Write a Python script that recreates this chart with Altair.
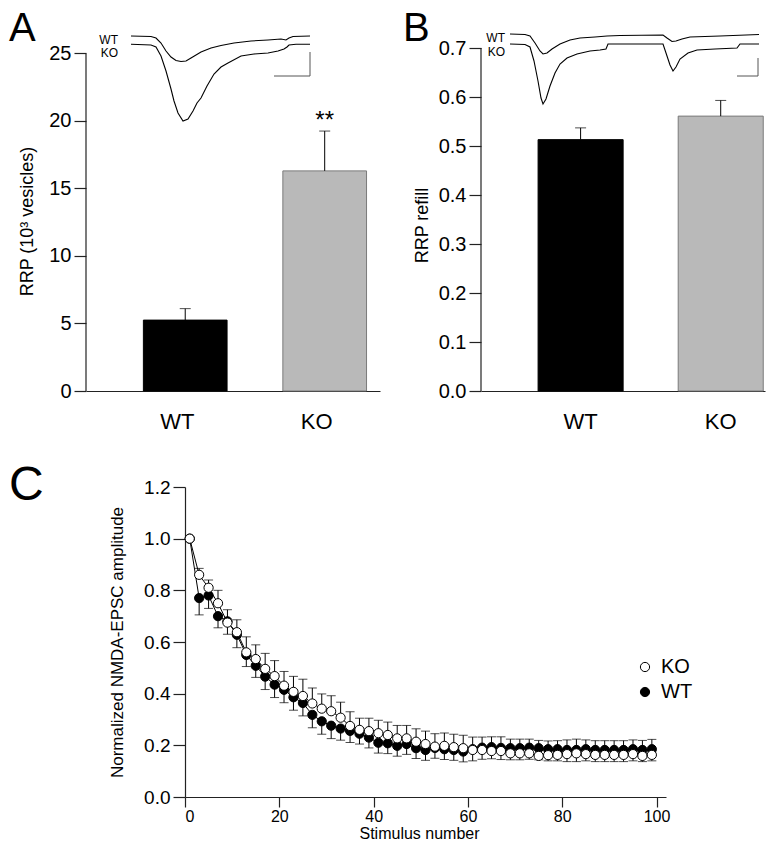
import altair as alt
import pandas as pd

FONT = "Liberation Sans"
NARROW = "Liberation Sans Narrow, Arial Narrow, Liberation Sans"
AX = "#222222"

# ---------------- Panel A: RRP size ----------------
groups = ["WT", "KO"]
rrp_mean = [5.25, 16.3]
rrp_sem = [0.85, 2.95]
rrp_ticks = [0, 5, 10, 15, 20, 25]
rrp_sig = ["", "**"]

# ---------------- Panel B: RRP refill ----------------
refill_mean = [0.513, 0.561]
refill_sem = [0.024, 0.032]
refill_ticks = [0.0, 0.1, 0.2, 0.3, 0.4, 0.5, 0.6, 0.7]

# ---------------- Panel C: NMDA-EPSC train ----------------
stim = list(range(1, 100, 2))
ko_mean = [1.0, 0.86, 0.81, 0.75, 0.675, 0.638, 0.56, 0.534, 0.496, 0.468,
           0.431, 0.407, 0.391, 0.362, 0.342, 0.332, 0.307, 0.275, 0.26, 0.255,
           0.247, 0.24, 0.227, 0.227, 0.214, 0.205, 0.195, 0.198, 0.193, 0.189,
           0.182, 0.182, 0.178, 0.178, 0.169, 0.169, 0.169, 0.159, 0.162, 0.163,
           0.166, 0.169, 0.166, 0.163, 0.163, 0.163, 0.163, 0.166, 0.159, 0.163]
ko_err = [0.0, 0.025, 0.03, 0.05, 0.05, 0.048, 0.06, 0.055, 0.06, 0.06,
          0.055, 0.06, 0.065, 0.06, 0.057, 0.06, 0.06, 0.055, 0.045, 0.05,
          0.05, 0.05, 0.05, 0.05, 0.05, 0.05, 0.05, 0.05, 0.05, 0.05,
          0.05, 0.05, 0.055, 0.055, 0.055, 0.055, 0.055, 0.06, 0.055, 0.055,
          0.055, 0.055, 0.055, 0.055, 0.055, 0.055, 0.055, 0.055, 0.06, 0.06]
wt_mean = [1.0, 0.77, 0.78, 0.70, 0.68, 0.628, 0.55, 0.508, 0.466, 0.435,
           0.415, 0.386, 0.364, 0.318, 0.293, 0.276, 0.265, 0.256, 0.245, 0.23,
           0.21, 0.208, 0.198, 0.205, 0.189, 0.182, 0.19, 0.185, 0.182, 0.176,
           0.185, 0.191, 0.193, 0.19, 0.189, 0.189, 0.191, 0.189, 0.185, 0.185,
           0.182, 0.182, 0.185, 0.182, 0.182, 0.182, 0.182, 0.185, 0.182, 0.185]
wt_err = [0.0, 0.065, 0.05, 0.045, 0.05, 0.05, 0.045, 0.045, 0.05, 0.05,
          0.05, 0.05, 0.05, 0.05, 0.05, 0.05, 0.045, 0.045, 0.04, 0.04,
          0.04, 0.04, 0.04, 0.04, 0.04, 0.04, 0.04, 0.04, 0.04, 0.04,
          0.045, 0.045, 0.045, 0.045, 0.045, 0.045, 0.045, 0.045, 0.045, 0.045,
          0.045, 0.045, 0.045, 0.045, 0.045, 0.045, 0.045, 0.045, 0.045, 0.045]
stim_ticks = [0, 20, 40, 60, 80, 100]
amp_ticks = [0.0, 0.2, 0.4, 0.6, 0.8, 1.0, 1.2]

# ---------------- Example traces (time ms, current pA) ----------------
a_wt_t = [0, 20, 25, 30, 35, 40, 45, 50, 55, 60, 70, 80, 90, 103, 120, 137, 150, 155, 158, 162, 179]
a_wt_i = [0, -5, -20, -70, -150, -210, -245, -255, -250, -220, -160, -120, -95, -70, -50, -40, -30, -40, -20, -5, 0]
a_ko_t = [0, 20, 25, 30, 35, 40, 43, 47, 52, 57, 62, 66, 70, 76, 83, 90, 97, 110, 123, 137, 147, 153, 156, 158, 165, 179]
a_ko_i = [-83, -90, -110, -200, -350, -530, -650, -770, -850, -830, -750, -670, -620, -500, -380, -310, -270, -200, -180, -170, -150, -130, -110, -90, -83, -83]
a_bar_t = [143, 179]
a_bar_i = [-160, -400]

b_wt_t = [0, 15, 20, 25, 30, 33, 37, 42, 50, 60, 70, 85, 97, 110, 153, 157, 162, 166, 172, 180, 210, 249]
b_wt_i = [0, -5, -20, -90, -170, -200, -190, -150, -100, -60, -40, -30, -20, -15, -10, -40, -75, -70, -50, -30, -20, -5]
b_ko_t = [0, 15, 20, 24, 28, 31, 33, 36, 40, 45, 50, 57, 67, 80, 90, 96, 98, 153, 156, 160, 163, 166, 170, 178, 187, 205, 227, 230, 249]
b_ko_i = [-100, -105, -130, -270, -470, -640, -700, -650, -520, -390, -300, -240, -200, -170, -160, -150, -100, -100, -190, -310, -370, -330, -250, -190, -160, -150, -140, -100, -100]
b_bar_t = [227, 248]
b_bar_i = [-240, -420]


def trace_layer(wt_t, wt_i, ko_t, ko_i, bar_t, bar_i, lab_t, lab_i, xdom, ydom):
    tr = pd.DataFrame({
        "t": wt_t + ko_t,
        "i": wt_i + ko_i,
        "g": ["WT"] * len(wt_t) + ["KO"] * len(ko_t),
    })
    xs = alt.Scale(domain=xdom, nice=False, zero=False)
    ys = alt.Scale(domain=ydom, nice=False, zero=False)
    lines = alt.Chart(tr).mark_line(color="black", strokeWidth=1.1).encode(
        x=alt.X("t:Q", scale=xs, axis=None),
        y=alt.Y("i:Q", scale=ys, axis=None),
        detail="g:N",
    )
    sb = pd.DataFrame({
        "t": [bar_t[1], bar_t[0]],
        "t2": [bar_t[1], bar_t[1]],
        "i": [bar_i[0], bar_i[1]],
        "i2": [bar_i[1], bar_i[1]],
    })
    bars = alt.Chart(sb).mark_rule(color="#555555", strokeWidth=1).encode(
        x=alt.X("t:Q", scale=xs, axis=None), x2="t2:Q",
        y=alt.Y("i:Q", scale=ys, axis=None), y2="i2:Q",
    )
    lab = pd.DataFrame({"t": [lab_t, lab_t], "i": lab_i, "g": ["WT", "KO"]})
    labels = alt.Chart(lab).mark_text(align="right", baseline="middle", fontSize=12, font=FONT).encode(
        x=alt.X("t:Q", scale=xs, axis=None),
        y=alt.Y("i:Q", scale=ys, axis=None),
        text="g:N",
    )
    return alt.layer(lines, bars, labels)


def letter(ch, x, y, size=40, font=FONT):
    return alt.Chart(pd.DataFrame({"L": [ch]})).mark_text(
        align="left", baseline="top", fontSize=size, font=font, color="black"
    ).encode(x=alt.value(x), y=alt.value(y), text="L:N")


def bar_panel(mean, sem, ticks, ydom, title, tfmt, band, letter_ch, letter_x, sig, traces, W, H,
              title_xy, label_off):
    df = pd.DataFrame({"group": groups, "mean": mean, "sem": sem})
    df["hi"] = df["mean"] + df["sem"]
    if sig is not None:
        df["sig"] = sig
    xs = alt.Scale(domain=groups, paddingInner=band[0], paddingOuter=band[1], align=band[2])
    ys = alt.Scale(domain=ydom, nice=False, zero=True)
    xax = alt.Axis(title=None, labelAngle=0, ticks=False, labelPadding=20, labelFontSize=22,
                   labelFont=NARROW, domainColor=AX, domainWidth=1.2, labelOffset=label_off)
    yax = alt.Axis(values=ticks, format=tfmt, domain=False, tickSize=12, tickColor=AX, tickWidth=1.2,
                   labelFontSize=20, labelPadding=3, title=title, titleFontSize=18,
                   titleX=title_xy[0], titleY=title_xy[1], titleBaseline="middle", titleAlign="center")
    X = alt.X("group:N", sort=groups, scale=xs, axis=xax)
    is_wt = alt.datum.group == "WT"
    bars = alt.Chart(df).mark_bar(strokeWidth=1).encode(
        x=X, y=alt.Y("mean:Q", scale=ys, axis=yax),
        fill=alt.condition(is_wt, alt.value("#000000"), alt.value("#b9b9b9")),
        stroke=alt.condition(is_wt, alt.value("#000000"), alt.value("#7a7a7a")))
    err = alt.Chart(df).mark_rule(color="black", strokeWidth=1).encode(
        x=X, y=alt.Y("mean:Q", scale=ys, axis=yax), y2="hi:Q")
    cap = alt.Chart(df).mark_tick(color="black", thickness=1, size=11, orient="horizontal").encode(
        x=X, y=alt.Y("hi:Q", scale=ys, axis=yax))
    dom = alt.Chart(pd.DataFrame({"lo": [min(ticks)], "hi": [max(ticks)]})).mark_rule(
        color=AX, strokeWidth=1.2).encode(
        x=alt.value(0), y=alt.Y("lo:Q", scale=ys, axis=yax), y2="hi:Q")
    main = [bars, err, cap, dom]
    if sig is not None:
        stars = alt.Chart(df).mark_text(fontSize=24, baseline="alphabetic", dy=-3, font=FONT).encode(
            x=X, y=alt.Y("hi:Q", scale=ys, axis=yax), text="sig:N")
        main.append(stars)
    main.append(letter(letter_ch, letter_x, -39))
    inner = alt.layer(*main)
    return alt.layer(inner, traces).resolve_scale(x="independent", y="independent").properties(
        width=W, height=H)


tracesA = trace_layer(a_wt_t, a_wt_i, a_ko_t, a_ko_i, a_bar_t, a_bar_i, -13, [-40, -170],
                      [-45, 249], [-3550, -120])
tracesB = trace_layer(b_wt_t, b_wt_i, b_ko_t, b_ko_i, b_bar_t, b_bar_i, -5, [-40, -180],
                      [-29, 255], [-3570, -140])

panelA = bar_panel(rrp_mean, rrp_sem, rrp_ticks, [0, 25.4], "RRP (10³ vesicles)", "d",
                   (0.4, 0.254, 0.81), "A", -77, rrp_sig, tracesA, 294, 343, (-59, 173), -8)
panelB = bar_panel(refill_mean, refill_sem, refill_ticks, [0, 0.7], "RRP refill", ".1f",
                   (0.393, 0.21, 0.97), "B", -78, None, tracesB, 284, 343, (-59, 177), 0)

# ---------------- Panel C ----------------
n = len(stim)
dfc = pd.DataFrame({
    "s": stim + stim,
    "mean": wt_mean + ko_mean,
    "err": wt_err + ko_err,
    "series": ["WT"] * n + ["KO"] * n,
})
dfc["lo"] = dfc.apply(lambda r: r["mean"] - r["err"] if r["series"] == "WT" else r["mean"], axis=1)
dfc["hi"] = dfc.apply(lambda r: r["mean"] + r["err"] if r["series"] == "KO" else r["mean"], axis=1)
dfc["cap"] = dfc.apply(lambda r: r["lo"] if r["series"] == "WT" else r["hi"], axis=1)

xsC = alt.Scale(domain=[0, 102], nice=False, zero=True)
ysC = alt.Scale(domain=[0, 1.2], nice=False, zero=True)
xaxC = alt.Axis(values=stim_ticks, tickSize=10, tickColor=AX, tickWidth=1.2, domainColor=AX, domainWidth=1.2,
                labelFontSize=16, labelPadding=1, title="Stimulus number", titleFontSize=16,
                titleX=234, titleY=36, titleBaseline="middle", titleAlign="center")
yaxC = alt.Axis(values=amp_ticks, format=".1f", tickSize=12, tickColor=AX, tickWidth=1.2, domainColor=AX,
                domainWidth=1.2, labelFontSize=19, labelPadding=3,
                title="Normalized NMDA-EPSC amplitude", titleFontSize=17,
                titleX=-68, titleY=155, titleBaseline="middle", titleAlign="center")
XC = alt.X("s:Q", scale=xsC, axis=xaxC)

errC = alt.Chart(dfc).mark_rule(color="black", strokeWidth=1).encode(
    x=XC, y=alt.Y("lo:Q", scale=ysC, axis=yaxC), y2="hi:Q")
capC = alt.Chart(dfc).mark_tick(color="black", thickness=1, size=9, orient="horizontal").encode(
    x=XC, y=alt.Y("cap:Q", scale=ysC, axis=yaxC))
lineC = alt.Chart(dfc).mark_line(color="black", strokeWidth=1).encode(
    x=XC, y=alt.Y("mean:Q", scale=ysC, axis=yaxC), detail="series:N")
ptsC = alt.Chart(dfc).mark_point(filled=True, size=85, stroke="black", strokeWidth=1, opacity=1).encode(
    x=XC, y=alt.Y("mean:Q", scale=ysC, axis=yaxC),
    fill=alt.Fill("series:N", scale=alt.Scale(domain=["KO", "WT"], range=["white", "black"]),
                  legend=alt.Legend(title=None, orient="none", legendX=549, legendY=609,
                                    labelFontSize=20, labelFont=FONT, symbolType="circle", symbolSize=85,
                                    symbolStrokeColor="black", symbolStrokeWidth=1, symbolOpacity=1,
                                    rowPadding=5, labelOffset=6, padding=0)),
)
panelC = alt.layer(errC, capC, lineC, ptsC).properties(width=481, height=310)

spacerC = alt.Chart(pd.DataFrame({"L": ["C"]})).mark_text(
    align="left", baseline="top", fontSize=48, font=FONT, color="black"
).encode(x=alt.value(-77), y=alt.value(-25), text="L:N").properties(width=1, height=310)

top = alt.hconcat(panelA, panelB, spacing=21)
bottom = alt.hconcat(spacerC, panelC, spacing=19)
chart = alt.vconcat(top, bottom, spacing=28).properties(padding=0).configure_view(
    stroke="transparent").configure_axis(
    labelFont=FONT, titleFont=FONT, labelColor="black", titleColor="black", grid=False,
    titleFontWeight="normal").configure_text(font=FONT)

chart.save("out.html", embed_options={"renderer": "svg", "actions": False})
